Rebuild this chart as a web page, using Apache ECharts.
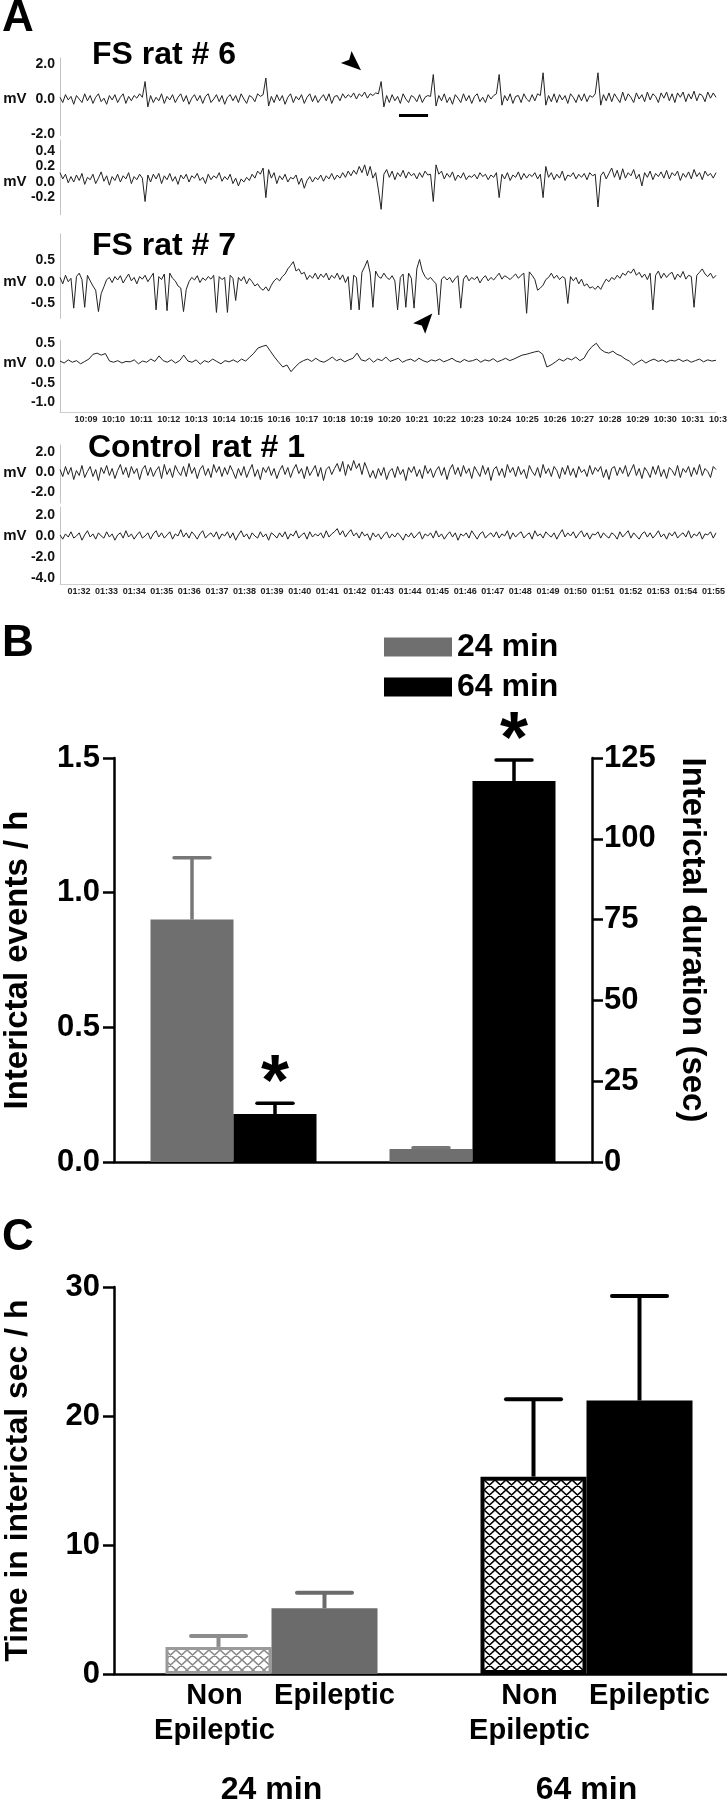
<!DOCTYPE html>
<html><head><meta charset="utf-8">
<script src="https://cdn.jsdelivr.net/npm/echarts@6.0.0/dist/echarts.min.js"></script>
<style>html,body{margin:0;padding:0;background:#fff}#chart{width:727px;height:1800px}</style>
</head><body><div id="chart"></div>
<script>
const FONT = '"Liberation Sans", Arial, Helvetica, sans-serif';

// ---------- Panel A : EEG traces (mV), one value per sample ----------
const fsRat6Ch1 = [0.1,-0.2,0.25,-0.05,0.15,-0.3,0.2,0.0,-0.2,0.3,-0.1,0.2,-0.25,0.1,0.3,-0.15,0.05,-0.3,0.2,-0.05,
0.25,-0.2,0.1,0.3,-0.25,0.15,-0.1,0.2,0.05,0.3,0.1,1.0,-0.45,0.2,-0.2,0.1,-0.1,0.3,-0.25,0.15,
-0.05,0.25,-0.2,0.1,0.3,-0.15,0.2,-0.3,0.05,0.25,-0.1,0.2,-0.25,0.15,0.3,-0.2,0.0,0.25,-0.15,0.2,
-0.3,0.1,0.25,-0.1,0.2,-0.2,0.3,0.0,-0.25,0.2,0.1,-0.15,0.3,0.15,0.25,1.2,-0.4,0.15,-0.2,0.25,
-0.1,0.2,-0.3,0.1,0.3,-0.2,0.15,-0.05,0.25,-0.25,0.1,0.3,-0.15,0.2,-0.2,0.05,0.25,-0.1,0.3,-0.25,
0.15,0.2,-0.1,0.3,0.05,0.25,0.1,0.35,0.0,0.3,0.15,0.4,0.05,0.3,0.2,0.35,0.3,1.0,-0.45,0.2,
-0.2,0.25,-0.1,0.15,-0.25,0.3,0.0,-0.2,0.2,0.1,-0.15,0.25,-0.2,0.1,0.2,0.15,1.4,-0.4,0.2,-0.1,
0.3,-0.2,0.1,-0.3,0.25,0.05,-0.2,0.3,-0.1,0.2,-0.25,0.15,0.3,-0.15,0.1,-0.2,0.25,0.0,0.2,0.3,
1.4,-0.35,0.2,-0.1,0.3,-0.25,0.15,0.2,-0.2,0.3,0.0,-0.15,0.25,-0.1,0.3,0.2,1.5,-0.35,0.2,-0.15,
0.3,-0.2,0.25,-0.05,0.2,-0.25,0.3,0.1,-0.2,0.25,-0.1,0.3,-0.15,0.2,0.1,0.3,1.5,-0.35,0.25,-0.1,
0.35,-0.15,0.3,0.05,-0.2,0.4,-0.1,0.3,0.1,-0.2,0.35,0.0,0.25,-0.15,0.4,-0.05,0.3,0.15,-0.2,0.35,
0.05,0.4,-0.1,0.3,-0.2,0.35,0.1,0.4,-0.15,0.3,0.0,0.45,-0.1,0.3,0.2,-0.15,0.4,0.05,0.35,0.1];
const fsRat6Ch2 = [0.12,0.04,0.1,-0.01,0.07,0.0,0.09,0.02,0.11,-0.03,0.06,0.03,0.1,-0.02,0.05,0.13,0.01,0.08,-0.04,0.07,
0.02,0.1,0.0,0.08,0.04,0.12,-0.02,0.07,0.03,0.1,0.05,-0.25,0.09,0.0,0.1,0.04,0.11,-0.02,0.08,0.03,
0.11,0.01,0.07,-0.03,0.09,0.04,0.1,0.0,0.08,0.05,0.11,0.02,0.06,-0.02,0.1,0.03,0.08,0.05,0.12,0.01,
0.07,0.03,0.1,-0.02,0.05,-0.05,0.04,0.0,0.06,0.02,0.1,0.05,0.14,0.1,0.18,-0.2,0.16,0.05,0.12,-0.02,
0.08,0.03,0.1,0.0,0.06,0.04,0.09,-0.03,0.05,-0.08,0.02,0.07,0.0,0.06,0.03,0.09,0.01,0.08,0.04,0.11,
0.03,0.09,0.05,0.12,0.06,0.14,0.08,0.15,0.1,0.2,0.12,0.22,0.08,0.2,0.05,0.12,-0.1,-0.35,0.1,0.16,
0.06,0.14,0.03,0.12,0.07,0.15,0.05,0.13,0.08,0.11,0.04,0.12,0.06,0.14,0.09,0.1,-0.25,0.22,0.1,0.14,
0.04,0.11,0.06,0.13,0.02,0.09,0.05,0.12,0.03,0.08,0.06,0.1,0.04,0.12,0.07,0.1,0.03,0.09,0.06,0.12,
-0.2,0.1,0.04,0.12,0.02,0.09,0.06,0.13,0.03,0.11,0.05,0.1,0.07,0.12,0.04,0.1,-0.2,0.2,0.06,0.12,
0.03,0.1,0.05,0.14,0.02,0.09,0.07,0.12,0.04,0.1,0.06,0.11,0.03,0.12,0.08,0.1,-0.32,0.08,0.13,0.04,
0.11,0.18,0.06,0.15,0.03,0.17,0.05,0.12,0.08,0.16,0.04,0.1,-0.05,0.12,0.06,0.14,0.03,0.11,0.07,0.13,
0.05,0.15,0.04,0.12,0.08,0.14,0.02,0.11,0.06,0.13,0.04,0.16,0.07,0.12,0.03,0.14,0.08,0.11,0.05,0.12];
const fsRat7Ch1 = [0.1,-0.05,0.15,0.0,0.08,-0.62,0.12,0.2,0.05,-0.6,0.15,0.02,-0.1,-0.2,-0.7,-0.28,-0.12,0.05,0.1,-0.02,
0.12,0.04,0.14,-0.03,0.08,0.18,0.02,0.1,-0.05,0.12,0.06,0.15,0.0,0.1,0.2,-0.66,0.12,0.05,0.18,-0.68,
0.2,0.08,0.02,-0.1,-0.15,-0.7,-0.18,0.0,0.1,0.04,0.14,-0.02,0.09,0.03,0.12,0.06,0.15,-0.72,0.12,0.05,
0.1,-0.72,0.15,0.08,-0.44,0.1,0.02,0.12,-0.05,0.08,0.0,-0.1,-0.05,-0.15,-0.2,-0.12,-0.22,-0.08,0.02,0.08,
0.02,0.12,0.18,0.3,0.38,0.47,0.25,0.3,0.18,0.22,0.05,0.15,0.08,0.2,0.06,0.18,0.1,0.2,0.04,0.15,
0.08,0.2,0.05,0.16,-0.02,0.12,-0.66,0.15,0.1,-0.66,0.22,0.35,0.5,0.2,-0.6,0.25,0.12,0.08,0.2,0.1,
0.05,0.14,0.02,-0.66,0.1,0.18,-0.6,0.2,0.08,-0.62,0.3,0.52,0.25,0.12,0.05,0.1,0.02,-0.05,-0.78,0.06,
0.12,0.04,0.1,-0.02,0.08,0.14,-0.62,0.06,0.15,0.02,0.1,0.05,0.12,-0.03,0.08,0.14,0.02,0.1,0.04,0.12,
0.2,0.06,0.14,0.1,0.05,0.12,0.18,0.08,0.15,0.2,-0.74,0.23,0.15,0.05,-0.2,-0.15,-0.08,0.05,0.1,0.2,
0.08,0.15,0.05,0.12,0.08,-0.51,0.12,0.02,0.1,-0.05,0.06,-0.1,-0.05,-0.15,-0.12,-0.18,-0.1,-0.18,-0.05,0.06,
0.0,0.1,0.05,0.15,0.08,0.2,0.15,0.25,0.2,0.3,0.15,0.22,0.1,0.18,0.05,0.2,-0.66,0.15,0.25,0.08,
0.2,0.1,0.18,0.22,0.05,0.18,0.1,0.24,0.06,0.15,0.12,-0.6,0.15,0.22,0.3,0.18,0.12,0.2,0.08,0.15];
const fsRat7Ch2 = [0.05,0.0,0.08,0.02,0.06,-0.02,0.04,0.1,0.22,0.25,0.2,0.24,0.05,0.02,0.06,0.0,0.04,0.03,0.08,-0.02,
0.05,0.02,0.1,0.04,0.18,0.06,0.02,0.08,0.0,0.06,0.2,0.05,0.02,0.08,-0.03,0.06,0.02,0.1,0.04,-0.02,
0.06,0.03,0.08,0.02,0.1,0.05,0.15,0.25,0.38,0.42,0.45,0.3,0.15,0.02,-0.1,-0.05,-0.22,-0.1,0.0,0.06,
0.1,0.04,0.12,0.05,0.02,0.08,0.15,0.06,0.1,0.03,0.08,0.12,0.25,0.08,0.05,0.12,0.02,0.1,0.06,0.15,
0.04,0.08,0.12,0.02,0.07,0.1,0.04,0.12,0.06,0.02,0.08,0.05,0.1,0.03,0.07,0.12,0.05,0.02,0.09,0.04,
0.06,0.1,0.02,0.08,0.05,0.11,0.03,0.07,0.12,0.06,0.1,0.15,0.2,0.22,0.25,0.28,0.3,0.22,-0.1,-0.05,
0.02,0.1,0.05,0.12,0.08,0.15,0.06,0.12,0.3,0.42,0.5,0.35,0.28,0.25,0.3,0.22,0.18,0.1,0.05,-0.05,
0.02,0.08,0.0,0.06,0.1,0.04,0.08,0.02,0.07,0.05,0.1,0.04,0.08,0.02,0.06,0.1,0.03,0.08,0.05,0.07];
const controlCh1 = [0.3,-0.4,0.6,-0.2,0.5,-0.7,0.2,-0.3,0.7,-0.5,0.1,0.6,-0.4,0.3,-0.8,0.5,-0.1,0.7,-0.3,0.4,
-0.6,0.2,0.8,-0.2,0.5,-0.5,0.6,-0.1,0.4,-0.7,0.3,0.7,-0.3,0.5,-0.4,0.2,0.6,-0.6,0.8,-0.2,
0.4,-0.5,0.7,0.1,-0.3,0.6,-0.4,0.9,-0.1,0.5,-0.6,0.3,0.7,-0.3,0.4,-0.5,0.8,0.0,0.6,-0.4,
0.5,-0.2,0.7,0.1,-0.6,0.4,-0.3,0.6,-0.5,0.2,0.8,-0.4,0.3,-0.7,0.5,0.0,0.6,-0.3,0.4,-0.6,
0.2,0.7,-0.2,0.5,-0.5,0.3,0.8,-0.1,0.4,-0.6,0.6,-0.3,0.2,0.7,-0.4,0.5,-0.8,0.3,0.6,-0.2,
0.4,0.9,0.1,1.1,-0.3,0.8,0.2,1.2,0.4,0.9,-0.2,1.0,0.3,-0.5,0.2,-0.6,0.4,-0.3,0.5,-0.7,
0.1,0.4,-0.5,0.6,-0.2,0.3,-0.8,0.5,0.0,0.6,-0.4,0.3,-0.6,0.7,-0.1,0.4,-0.5,0.2,0.6,-0.3,
0.5,-0.7,0.3,0.8,-0.2,0.5,-0.4,0.7,-0.1,0.4,-0.6,0.6,0.1,-0.4,0.7,-0.2,0.5,-0.8,0.3,0.6,
-0.3,0.4,-0.5,0.8,0.0,0.5,-0.4,0.6,-0.2,0.3,-0.6,0.7,0.1,-0.3,0.5,-0.5,0.8,-0.1,0.4,-0.4,
0.6,0.2,-0.6,0.5,-0.2,0.7,-0.3,0.4,-0.5,0.6,0.0,0.3,-0.4,0.7,-0.2,0.5,0.1,0.6,-0.5,0.3,
-0.7,0.4,0.6,-0.3,0.5,-0.1,0.7,-0.4,0.2,0.8,-0.3,0.4,-0.6,0.5,0.1,-0.5,0.6,-0.2,0.7,-0.4,
0.3,-0.6,0.5,0.2,-0.3,0.7,-0.5,0.4,0.0,0.6,-0.4,0.5,-0.2,0.8,-0.3,0.4,0.1,-0.5,0.6,0.3];
const controlCh2 = [0.1,-0.3,0.2,-0.1,0.4,-0.2,0.0,0.3,-0.4,0.1,0.5,-0.1,0.2,-0.3,0.3,0.0,-0.2,0.4,-0.1,0.2,
-0.4,0.1,0.3,-0.2,0.5,-0.1,0.2,-0.3,0.1,0.4,-0.2,0.0,0.3,-0.3,0.2,0.5,-0.1,0.3,-0.2,0.1,
0.4,-0.3,0.2,0.0,0.6,-0.1,0.3,-0.2,0.4,0.1,-0.3,0.2,0.5,-0.2,0.1,0.3,-0.1,0.4,-0.3,0.2,
0.0,0.4,-0.2,0.3,-0.4,0.1,0.5,-0.1,0.2,-0.3,0.3,0.0,-0.2,0.4,-0.1,0.2,-0.4,0.3,0.1,-0.2,
0.3,-0.1,0.4,-0.3,0.2,0.0,0.5,-0.2,0.1,0.3,-0.3,0.4,-0.1,0.2,0.0,0.3,-0.2,0.5,-0.1,0.2,
0.4,0.7,0.1,0.5,-0.1,0.3,0.6,0.0,0.3,-0.2,0.4,0.0,0.2,-0.4,0.3,-0.1,0.2,-0.3,0.1,0.4,
-0.2,0.2,-0.1,0.3,0.0,-0.4,0.2,-0.1,0.3,-0.2,0.1,0.4,-0.3,0.2,0.0,0.3,-0.2,0.5,-0.1,0.2,
-0.3,0.1,0.4,-0.1,0.3,-0.4,0.2,0.0,0.3,-0.2,0.5,0.1,-0.3,0.2,0.4,-0.2,0.1,0.3,-0.1,0.4,
-0.2,0.2,0.0,0.5,-0.3,0.3,-0.1,0.2,0.4,-0.2,0.1,0.3,-0.3,0.5,0.0,0.2,-0.2,0.4,0.1,-0.1,
0.3,-0.3,0.2,0.6,-0.1,0.3,0.0,0.4,-0.2,0.2,0.5,-0.1,0.3,-0.3,0.2,0.1,0.4,-0.2,0.3,0.0,
-0.2,0.3,0.1,-0.3,0.4,-0.1,0.2,0.5,-0.2,0.3,0.0,-0.3,0.2,0.4,-0.1,0.3,-0.2,0.1,0.5,-0.1,
0.2,-0.3,0.3,0.0,0.4,-0.2,0.1,0.3,-0.1,0.5,-0.2,0.2,0.0,0.4,-0.3,0.2,0.1,0.4,-0.2,0.3];

const fs6Ch1Ticks = [-2, 0, 2];
const fs6Ch2Ticks = [-0.2, 0, 0.2, 0.4];
const fs7Ch1Ticks = [-0.5, 0, 0.5];
const fs7Ch2Ticks = [-1.0, -0.5, 0, 0.5];
const ctrlCh1Ticks = [-2, 0, 2];
const ctrlCh2Ticks = [-4, -2, 0, 2];

const fs7Times = ['10:09','10:10','10:11','10:12','10:13','10:14','10:15','10:16','10:17','10:18','10:19','10:20',
  '10:21','10:22','10:23','10:24','10:25','10:26','10:27','10:28','10:29','10:30','10:31','10:32'];
const controlTimes = ['01:32','01:33','01:34','01:35','01:36','01:37','01:38','01:39','01:40','01:41','01:42','01:43',
  '01:44','01:45','01:46','01:47','01:48','01:49','01:50','01:51','01:52','01:53','01:54','01:55'];

// arrowheads and scale bar (sample index, mV)
const arrowFs6 = [106.7, 2.06];
const arrowFs7 = [133, -0.94];
const scaleBarFs6 = [[123.5, -0.91], [134.1, -0.91]];

// ---------- Panel B ----------
const groupsB = ['24 min', '64 min'];
const eventsMean = [0.90, 0.178];   // interictal events / h
const eventsSem  = [0.23, 0.04];
const eventsSig  = [0, 1];
const durationMean = [4.0, 117.9];  // interictal duration (sec)
const durationSem  = [0.4, 6.5];
const durationSig  = [0, 1];

// ---------- Panel C ----------
const groupsC = ['24 min', '64 min'];
const nonEpMean = [2.1, 15.3];
const nonEpSem  = [0.85, 6.0];
const epMean = [5.1, 21.2];
const epSem  = [1.2, 8.1];

// ================= layout / styling =================
const traces = [
  {data: fsRat6Ch1, ticks: fs6Ch1Ticks, top: 57.9, height: 77.9, min: -2.1, max: 2.35},
  {data: fsRat6Ch2, ticks: fs6Ch2Ticks, top: 139.9, height: 74.9, min: -0.42, max: 0.54},
  {data: fsRat7Ch1, ticks: fs7Ch1Ticks, top: 233.9, height: 84.5, min: -0.86, max: 1.12},
  {data: fsRat7Ch2, ticks: fs7Ch2Ticks, top: 340.1, height: 71.9, min: -1.24, max: 0.58, base: true},
  {data: controlCh1, ticks: ctrlCh1Ticks, top: 445, height: 58, min: -3.05, max: 2.75},
  {data: controlCh2, ticks: ctrlCh2Ticks, top: 507, height: 77, min: -4.57, max: 2.76, base: true}
];
const TL = 60, TW = 656;

const grids = [], xAxes = [], yAxes = [], series = [];
traces.forEach((t, i) => {
  grids.push({left: TL, width: TW, top: t.top, height: t.height, outerBoundsMode: 'none'});
  xAxes.push({gridIndex: i, type: 'value', min: 0, max: t.data.length - 1, show: !!t.base,
    axisLine: {show: true, onZero: false, lineStyle: {color: '#cfcfcf', width: 1}},
    axisTick: {show: false}, axisLabel: {show: false}, splitLine: {show: false}});
  yAxes.push({gridIndex: i, type: 'value', min: t.min, max: t.max,
    axisLine: {show: true, onZero: false, lineStyle: {color: '#c4c4c4', width: 1}},
    axisTick: {show: false}, splitLine: {show: false},
    axisLabel: {customValues: t.ticks, margin: 5, fontSize: 14, fontWeight: 'bold', fontFamily: FONT, color: '#111',
      formatter: v => Math.abs(v) < 1e-9 ? '{u|mV}0.0' : v.toFixed(1),
      rich: {u: {fontSize: 15, fontWeight: 'bold', fontFamily: FONT, color: '#111', padding: [0, 9, 0, 0]}}}});
  series.push({type: 'line', xAxisIndex: i, yAxisIndex: i, data: t.data.map((v, k) => [k, v]),
    showSymbol: false, symbol: 'none', silent: true, animation: false,
    lineStyle: {color: '#222', width: 1}});
});
series[0].markLine = {silent: true, symbol: 'none', label: {show: false},
  lineStyle: {color: '#000', width: 3, type: 'solid'}, data: [[{coord: scaleBarFs6[0]}, {coord: scaleBarFs6[1]}]]};

function arrowSeries(ai, point, angleDeg) {
  return {type: 'custom', xAxisIndex: ai, yAxisIndex: ai, clip: false, silent: true, z: 6, animation: false,
    data: [point],
    renderItem: (p, api) => {
      const c = api.coord([api.value(0), api.value(1)]);
      const t = angleDeg * Math.PI / 180, co = Math.cos(t), si = Math.sin(t);
      const pts = [[11, 0], [-9, -8], [-5, 0], [-9, 8]].map(([lx, ly]) => [c[0] + lx * co - ly * si, c[1] + lx * si + ly * co]);
      return {type: 'polygon', shape: {points: pts}, style: {fill: '#000'}};
    }};
}
series.push(arrowSeries(0, arrowFs6, 42));
series.push(arrowSeries(2, arrowFs7, -49));

// time axes (grids 6, 7)
[[fs7Times, 72.2, 411], [controlTimes, 65.2, 583]].forEach(([times, left, top], j) => {
  const gi = 6 + j;
  grids.push({left, width: 662, top, height: 1, outerBoundsMode: 'none'});
  xAxes.push({gridIndex: gi, type: 'category', data: times, boundaryGap: true,
    axisLine: {show: false}, axisTick: {show: false}, splitLine: {show: false},
    axisLabel: {interval: 0, margin: 3, fontSize: 9, fontWeight: 'bold', fontFamily: FONT, color: '#222'}});
  yAxes.push({gridIndex: gi, type: 'value', show: false});
});

// Panel B (grid 8)
const axisBlack = {show: true, onZero: false, lineStyle: {color: '#000', width: 2.5}};
const tickBlack = {show: true, inside: false, length: 11, lineStyle: {color: '#000', width: 2.5}};
const bigLabel = {fontSize: 31, fontWeight: 'bold', fontFamily: FONT, color: '#000'};
grids.push({left: 114, width: 478, top: 758, height: 404, outerBoundsMode: 'none'});
xAxes.push({gridIndex: 8, type: 'category', data: ['events', 'duration'], axisLine: axisBlack,
  axisTick: {show: false}, axisLabel: {show: false}, splitLine: {show: false}});
xAxes.push({gridIndex: 8, type: 'category', data: ['events', 'duration'], show: false});
yAxes.push({gridIndex: 8, type: 'value', min: 0, max: 1.5, interval: 0.5, position: 'left',
  axisLine: axisBlack, axisTick: tickBlack, splitLine: {show: false},
  axisLabel: Object.assign({margin: 14, formatter: v => v.toFixed(1)}, bigLabel),
  name: 'Interictal events / h', nameLocation: 'middle', nameGap: 80, nameRotate: 90,
  nameTextStyle: {fontSize: 33, fontWeight: 'bold', fontFamily: FONT, color: '#000'}});
yAxes.push({gridIndex: 8, type: 'value', min: 0, max: 125, interval: 25, position: 'right',
  axisLine: axisBlack, axisTick: tickBlack, splitLine: {show: false},
  axisLabel: Object.assign({margin: 12}, bigLabel),
  name: 'Interictal duration (sec)', nameLocation: 'middle', nameGap: 84, nameRotate: -90,
  nameTextStyle: {fontSize: 33, fontWeight: 'bold', fontFamily: FONT, color: '#000', padding: [0, 40, 0, 0]}});

const GRAY_B = '#6f6f6f';
const barB = (name, xi, yi, data, color) => ({type: 'bar', name, xAxisIndex: xi, yAxisIndex: yi, data,
  barWidth: 83, barGap: '0%', itemStyle: {color}, silent: true, animation: false});
series.push(barB(groupsB[0], 8, 8, [eventsMean[0], '-'], GRAY_B));
series.push(barB(groupsB[1], 8, 8, [eventsMean[1], '-'], '#000'));
series.push(barB(groupsB[0], 9, 9, ['-', durationMean[0]], GRAY_B));
series.push(barB(groupsB[1], 9, 9, ['-', durationMean[1]], '#000'));

function errSeries(name, xi, yi, rows, offset, colors, lw, capW) {
  return {type: 'custom', name, xAxisIndex: xi, yAxisIndex: yi, clip: false, silent: true, z: 5,
    animation: false, data: rows,
    renderItem: (params, api) => {
      const ci = api.value(0), m = api.value(1), e = api.value(2), st = api.value(3);
      const p0 = api.coord([ci, m]), p1 = api.coord([ci, m + e]);
      const x = p0[0] + offset, col = colors[ci];
      const ch = [
        {type: 'line', shape: {x1: x, y1: p0[1], x2: x, y2: p1[1]}, style: {stroke: col, lineWidth: lw}},
        {type: 'line', shape: {x1: x - capW / 2, y1: p1[1], x2: x + capW / 2, y2: p1[1]},
          style: {stroke: col, lineWidth: lw, lineCap: 'round'}}
      ];
      if (st) ch.push({type: 'text', style: {text: '*', x: x, y: p1[1] - 18, textAlign: 'center',
        textVerticalAlign: 'middle', font: 'bold 72px ' + FONT, fill: '#000'}});
      return {type: 'group', children: ch};
    }};
}
series.push(errSeries('e1', 8, 8, [[0, eventsMean[0], eventsSem[0], eventsSig[0]]], -41.5, ['#777', '#777'], 3.5, 36));
series.push(errSeries('e2', 8, 8, [[0, eventsMean[1], eventsSem[1], eventsSig[1]]], 41.5, ['#000', '#000'], 3.5, 36));
series.push(errSeries('e3', 9, 9, [[1, durationMean[0], durationSem[0], durationSig[0]]], -41.5, ['#777', '#777'], 3.5, 36));
series.push(errSeries('e4', 9, 9, [[1, durationMean[1], durationSem[1], durationSig[1]]], 41.5, ['#000', '#000'], 3.5, 36));

// Panel C (grid 9)
function hatch(color) {
  const c = document.createElement('canvas'); c.width = 11; c.height = 10;
  const g = c.getContext('2d'); g.fillStyle = '#fff'; g.fillRect(0, 0, 11, 10);
  g.strokeStyle = color; g.lineWidth = 1.6; g.beginPath();
  for (const dx of [-11, 0, 11]) { g.moveTo(dx, 0); g.lineTo(dx + 11, 10); g.moveTo(dx + 11, 0); g.lineTo(dx, 10); }
  g.stroke(); return c;
}
grids.push({left: 114, width: 630, top: 1287, height: 387, outerBoundsMode: 'none'});
xAxes.push({gridIndex: 9, type: 'category', data: groupsC, axisLine: axisBlack, axisTick: {show: false},
  splitLine: {show: false}, axisLabel: Object.assign({margin: 100, interval: 0}, bigLabel, {fontSize: 32})});
yAxes.push({gridIndex: 9, type: 'value', min: 0, max: 30, interval: 10,
  axisLine: axisBlack, axisTick: tickBlack, splitLine: {show: false},
  axisLabel: Object.assign({margin: 14}, bigLabel),
  name: 'Time in interictal sec / h', nameLocation: 'middle', nameGap: 80, nameRotate: 90,
  nameTextStyle: {fontSize: 32, fontWeight: 'bold', fontFamily: FONT, color: '#000'}});
const nonEpStyles = [
  {color: {image: hatch('#8a8a8a'), repeat: 'repeat'}, borderColor: '#9a9a9a', borderWidth: 3},
  {color: {image: hatch('#000'), repeat: 'repeat'}, borderColor: '#000', borderWidth: 4}];
const epStyles = [{color: '#6b6b6b'}, {color: '#000'}];
const barLabel = {show: true, position: 'bottom', distance: 4, fontSize: 29, fontWeight: 'bold',
  fontFamily: FONT, color: '#000', lineHeight: 35};
series.push({type: 'bar', name: 'Non Epileptic', xAxisIndex: 10, yAxisIndex: 10, barWidth: 106, barGap: '0%',
  data: nonEpMean.map((v, i) => ({value: v, itemStyle: nonEpStyles[i]})), silent: true, animation: false,
  label: Object.assign({formatter: 'Non\nEpileptic', offset: [-4, 0]}, barLabel)});
series.push({type: 'bar', name: 'Epileptic', xAxisIndex: 10, yAxisIndex: 10, barWidth: 106, barGap: '0%',
  data: epMean.map((v, i) => ({value: v, itemStyle: epStyles[i]})), silent: true, animation: false,
  label: Object.assign({formatter: 'Epileptic', offset: [10, 0]}, barLabel)});
series.push(errSeries('c1', 10, 10, nonEpMean.map((m, i) => [i, m, nonEpSem[i], 0]), -53, ['#8c8c8c', '#000'], 4, 55));
series.push(errSeries('c2', 10, 10, epMean.map((m, i) => [i, m, epSem[i], 0]), 53, ['#6b6b6b', '#000'], 4, 55));

const txt = (text, x, y, size) => ({type: 'text', x, y, silent: true,
  style: {text, font: 'bold ' + size + 'px ' + FONT, fill: '#000', textVerticalAlign: 'middle'}});

const chart = echarts.init(document.getElementById('chart'), null, {renderer: 'canvas'});
chart.setOption({
  animation: false,
  backgroundColor: '#fff',
  textStyle: {fontFamily: FONT},
  grid: grids, xAxis: xAxes, yAxis: yAxes, series,
  legend: {data: groupsB, orient: 'vertical', left: 379, top: 626, itemWidth: 68, itemHeight: 19, itemGap: 8,
    icon: 'rect', selectedMode: false,
    textStyle: {fontSize: 32, fontWeight: 'bold', fontFamily: FONT, color: '#000', lineHeight: 32}},
  graphic: {elements: [
    txt('A', 2, 19, 44), txt('FS rat # 6', 92, 55, 32), txt('FS rat # 7', 92, 246, 32),
    txt('Control rat # 1', 88, 448, 32), txt('B', 2, 644, 44), txt('C', 2, 1238, 44)]}
});
</script></body></html>
